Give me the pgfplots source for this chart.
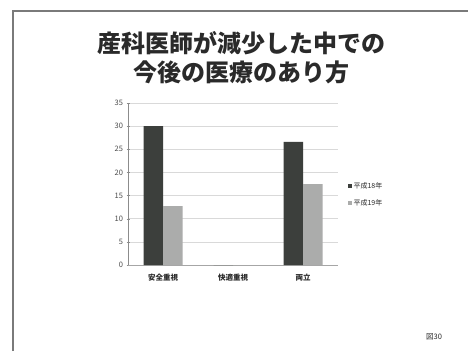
\documentclass[border=0pt]{standalone}
\usepackage{fontspec}
\setmainfont{Noto Sans CJK JP}
\usepackage{pgfplots}
\pgfplotsset{compat=1.18}
\definecolor{darkbar}{HTML}{3C3F3C}
\definecolor{lightbar}{HTML}{ABACAB}
\definecolor{txt}{HTML}{2A2A2A}
\definecolor{frame}{HTML}{7A7A7A}
\begin{document}
\begin{tikzpicture}[x=1pt,y=1pt]
\path[use as bounding box] (0,0) rectangle (468,351);
\fill[white] (0,0) rectangle (468,351);
\draw[frame,line width=1.6pt] (13,0) -- (13,340) -- (468,340);
\node[font=\fontsize{24}{28}\selectfont\bfseries, text=txt] at (241,308) {産科医師が減少した中での};
\node[font=\fontsize{24}{28}\selectfont\bfseries, text=txt] at (241,279) {今後の医療のあり方};
\node[font=\fontsize{7.5}{8}\selectfont, text=txt] at (434,14) {図30};
\begin{axis}[
  at={(128pt,86pt)}, anchor=south west,
  scale only axis, width=210pt, height=162pt,
  ybar=0pt, bar width=19.5pt,
  xmin=-0.5, xmax=2.5, ymin=0, ymax=35,
  xtick={0,1,2}, xticklabels={安全重視,快適重視,両立},
  ytick={0,5,...,35},
  axis lines=left, axis line style={draw=black!45, -},
  x axis line style={draw=black!35},
  ymajorgrids, grid style={draw=black!15, line width=0.6pt},
  major tick length=3pt,
  x tick style={draw=none},
  y tick style={draw=black!45},
  tick label style={font=\fontsize{7.5}{8}\selectfont, text=black!70},
  xticklabel style={font=\fontsize{7.5}{8}\selectfont\bfseries, text=txt, yshift=-4pt},
  /pgf/number format/assume math mode=true,
  legend style={at={(1.03,0.435)}, anchor=west, draw=none, fill=none,
    font=\fontsize{7}{8}\selectfont, text=txt, row sep=6pt,
    /tikz/every even column/.append style={column sep=2pt}},
  legend cell align=left,
  legend image code/.code={\fill[#1] (0pt,-2pt) rectangle (4pt,2pt);},
]
\addplot[fill=darkbar, draw=none] coordinates {(0,30) (1,0) (2,26.6)};
\addplot[fill=lightbar, draw=none] coordinates {(0,12.7) (1,0) (2,17.5)};
\legend{平成18年,平成19年}
\end{axis}
\end{tikzpicture}
\end{document}
